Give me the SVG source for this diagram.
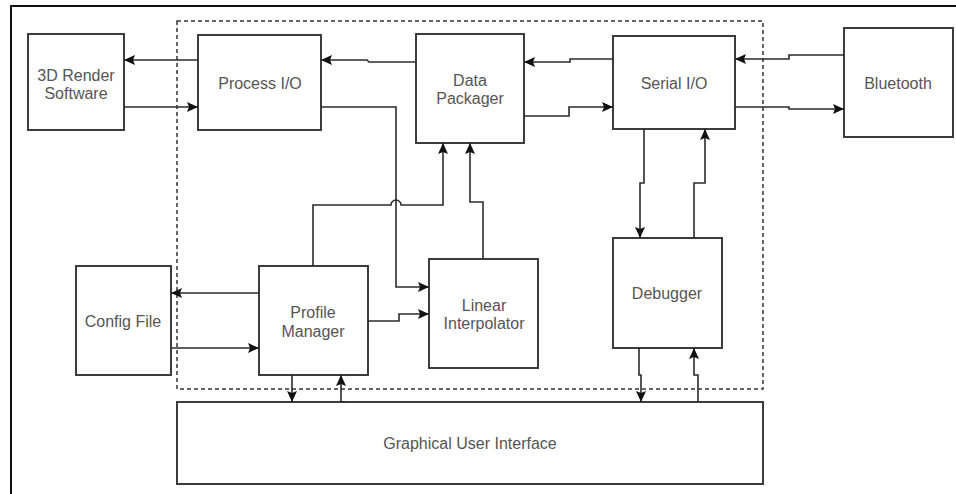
<svg xmlns="http://www.w3.org/2000/svg" width="956" height="494" viewBox="0 0 956 494">
<style>
.box{fill:#fff;stroke:#3c3c3c;stroke-width:2}
.lbl{font-family:"Liberation Sans",Arial,sans-serif;font-size:16px;fill:#555;text-anchor:middle}
.ln{fill:none;stroke:#2b2b2b;stroke-width:1.6}
.frame{fill:none;stroke:#111;stroke-width:2}
.cont{fill:none;stroke:#333;stroke-width:1.5;stroke-dasharray:4 3}
</style>
<defs>
<marker id="ah" viewBox="0 0 11 10" refX="11" refY="5" markerWidth="11" markerHeight="10" markerUnits="userSpaceOnUse" orient="auto">
<path d="M0,0 L11,5 L0,10 L2,5 z" fill="#111"/>
</marker>
</defs>
<rect width="956" height="494" fill="#fff"/>
<path class="frame" d="M11,494 V6 H956"/>
<rect id="container" class="cont" x="177" y="21" width="586" height="368"/>

<g id="render3d"><rect class="box" x="28" y="34" width="96" height="96"/><text class="lbl" x="76" y="81">3D Render</text><text class="lbl" x="76" y="99">Software</text></g>
<g id="processio"><rect class="box" x="198" y="35" width="123" height="95"/><text class="lbl" x="260" y="89">Process I/O</text></g>
<g id="datapackager"><rect class="box" x="416" y="34" width="108" height="109"/><text class="lbl" x="470" y="86">Data</text><text class="lbl" x="470" y="104">Packager</text></g>
<g id="serialio"><rect class="box" x="613" y="36" width="122" height="93"/><text class="lbl" x="674" y="89">Serial I/O</text></g>
<g id="bluetooth"><rect class="box" x="844" y="28" width="109" height="109"/><text class="lbl" x="898" y="89">Bluetooth</text></g>
<g id="configfile"><rect class="box" x="76" y="266" width="95" height="109"/><text class="lbl" x="123" y="327">Config File</text></g>
<g id="profilemanager"><rect class="box" x="259" y="266" width="109" height="109"/><text class="lbl" x="313" y="318">Profile</text><text class="lbl" x="313" y="337">Manager</text></g>
<g id="linearinterpolator"><rect class="box" x="429" y="259" width="109" height="109"/><text class="lbl" x="484" y="311">Linear</text><text class="lbl" x="484" y="329">Interpolator</text></g>
<g id="debugger"><rect class="box" x="613" y="238" width="109" height="110"/><text class="lbl" x="667" y="299">Debugger</text></g>
<g id="gui"><rect class="box" x="177" y="402" width="586" height="82"/><text class="lbl" x="470" y="449">Graphical User Interface</text></g>

<g id="connectors">
<path class="ln" marker-end="url(#ah)" d="M198,60 H124"/>
<path class="ln" marker-end="url(#ah)" d="M124,107 H198"/>
<path class="ln" marker-end="url(#ah)" d="M416,62 H369 L367,60 H321"/>
<path class="ln" marker-end="url(#ah)" d="M321,107 H396 V287 H429"/>
<path class="ln" marker-end="url(#ah)" d="M313,266 V205 H391 A5,5 0 0 1 401,205 H443 V143"/>
<path class="ln" marker-end="url(#ah)" d="M483,259 V202 H470 V143"/>
<path class="ln" marker-end="url(#ah)" d="M368,321 H399 V314 H429"/>
<path class="ln" marker-end="url(#ah)" d="M613,59 H570 V62 H524"/>
<path class="ln" marker-end="url(#ah)" d="M524,116 H569 V107 H613"/>
<path class="ln" marker-end="url(#ah)" d="M844,55 H789 V59 H735"/>
<path class="ln" marker-end="url(#ah)" d="M735,107 H789 V109 H844"/>
<path class="ln" marker-end="url(#ah)" d="M644,129 V183 H640 V238"/>
<path class="ln" marker-end="url(#ah)" d="M694,238 V183 H705 V129"/>
<path class="ln" marker-end="url(#ah)" d="M639,348 V375 H641 V402"/>
<path class="ln" marker-end="url(#ah)" d="M698,402 V375 H694 V348"/>
<path class="ln" marker-end="url(#ah)" d="M259,293 H171"/>
<path class="ln" marker-end="url(#ah)" d="M171,348 H259"/>
<path class="ln" marker-end="url(#ah)" d="M292,375 V402"/>
<path class="ln" marker-end="url(#ah)" d="M345,402 H341 V375"/>
</g>
</svg>
